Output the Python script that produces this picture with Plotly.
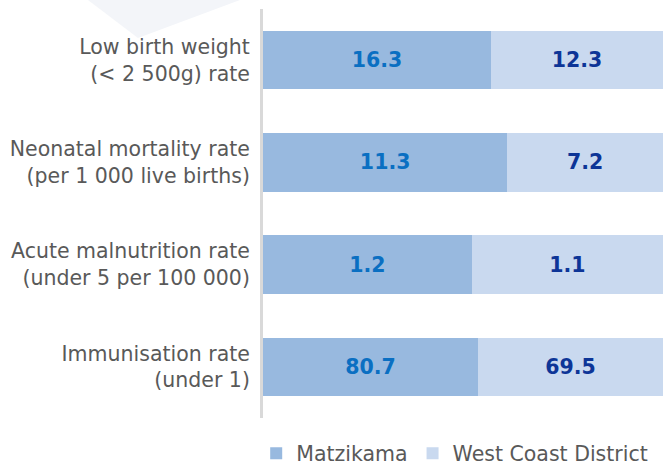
import plotly.graph_objects as go

categories = ["Low birth weight<br>(&lt; 2 500g) rate",
              "Neonatal mortality rate<br>(per 1 000 live births)",
              "Acute malnutrition rate<br>(under 5 per 100 000)",
              "Immunisation rate<br>(under 1)"]
matzikama = [16.3, 11.3, 1.2, 80.7]
west_coast = [12.3, 7.2, 1.1, 69.5]

FONT = "DejaVu Sans, sans-serif"
L, T, W, H = 263, 9, 400, 409

def px(x):
    return (x - L) / W

def py(y):
    return (T + H - y) / H

fig = go.Figure()
fig.add_trace(go.Bar(
    y=categories, x=matzikama, name="Matzikama", orientation="h",
    marker=dict(color="#98B9DF", line=dict(width=0)),
    text=[f"{v:.1f}" for v in matzikama], textposition="inside",
    insidetextanchor="middle",
    textfont=dict(family=FONT, size=20.5, color="#0A6FC2", weight="bold"),
    hoverinfo="skip",
))
fig.add_trace(go.Bar(
    y=categories, x=west_coast, name="West Coast District", orientation="h",
    marker=dict(color="#C9D9EF", line=dict(width=0)),
    text=[f"{v:.1f}" for v in west_coast], textposition="inside",
    insidetextanchor="middle",
    textfont=dict(family=FONT, size=20.5, color="#0D3597", weight="bold"),
    hoverinfo="skip",
))

fig.add_shape(type="path", xref="paper", yref="paper",
              path=f"M {px(88)},{py(0)} L {px(240)},{py(0)} L {px(138)},{py(38)} Z",
              fillcolor="#F3F5F9", line=dict(width=0), layer="below")

fig.update_layout(
    width=663, height=465,
    margin=dict(l=L, r=663 - L - W, t=T, b=465 - T - H, autoexpand=False),
    barmode="stack", barnorm="percent", bargap=0.43,
    plot_bgcolor="rgba(0,0,0,0)", paper_bgcolor="white",
    font=dict(family=FONT, size=19, color="#595959"),
    xaxis=dict(visible=False, range=[0, 100], fixedrange=True),
    yaxis=dict(autorange="reversed", showline=True, linecolor="#D9D9D9",
               linewidth=3, ticks="", showgrid=False, zeroline=False,
               automargin=False, ticklabelstandoff=6, fixedrange=True,
               tickfont=dict(family=FONT, size=20.5, color="#595959")),
    legend=dict(orientation="h", x=-0.017, y=-0.038, xanchor="left", yanchor="top",
                font=dict(family=FONT, size=20.5, color="#595959"),
                itemwidth=30, traceorder="normal"),
    showlegend=True,
)

fig.write_html("out.html", config={"displayModeBar": False},
               post_script="document.body.style.margin='0';document.body.style.overflow='hidden';")
